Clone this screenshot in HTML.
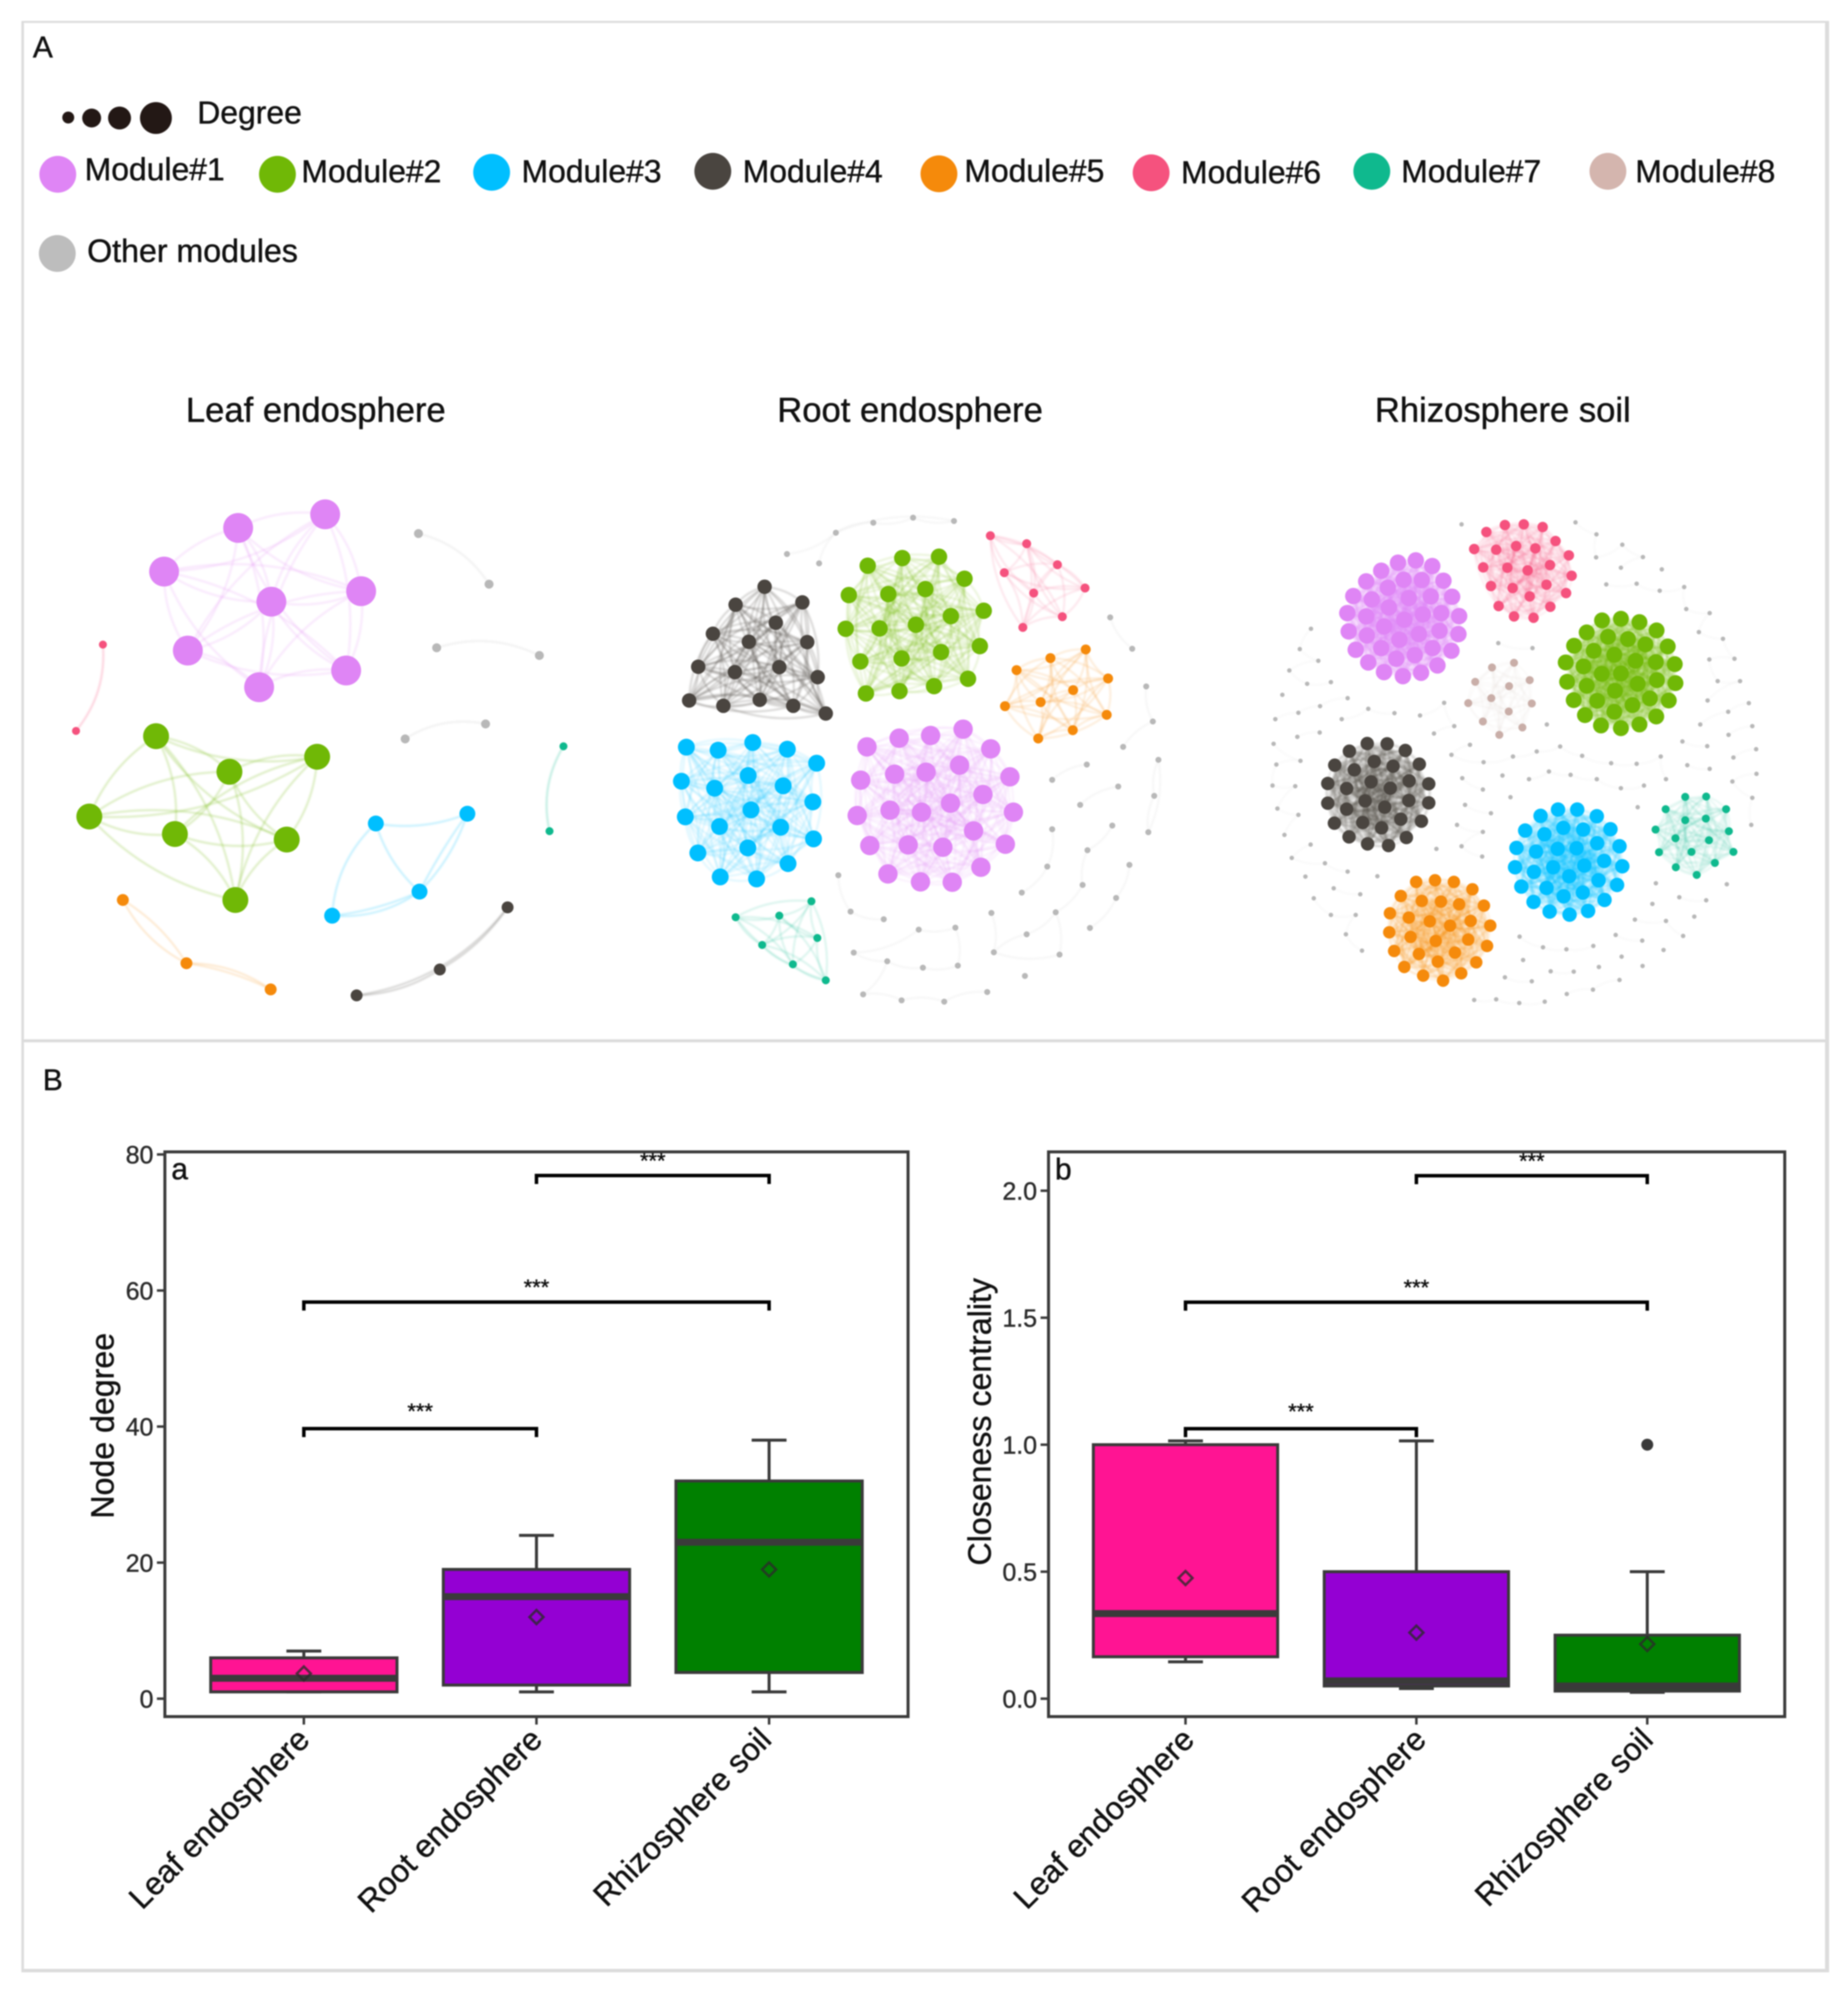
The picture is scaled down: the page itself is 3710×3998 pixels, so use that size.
<!DOCTYPE html>
<html lang="en">
<head>
<meta charset="utf-8">
<title>Co-occurrence networks and node-level topology</title>
<style>
html,body{margin:0;padding:0;background:#fff;}
svg{display:block;filter:blur(1.3px);font-family:"Liberation Sans",Arial,sans-serif;}
text{fill:#111;stroke:#111;stroke-width:.8px;}
.edges{filter:blur(1.8px);}
</style>
</head>
<body>
<svg id="figure" xmlns="http://www.w3.org/2000/svg" width="3710" height="3998" viewBox="0 0 3710 3998">
  <rect x="0" y="0" width="3710" height="3998" fill="#fff"/>
  <g stroke="#dcdcdc">
    <line x1="45.5" y1="42" x2="45.5" y2="3960" stroke-width="5"/>
    <line x1="43" y1="44" x2="3672" y2="44" stroke-width="4"/>
    <line x1="3668" y1="42" x2="3668" y2="3960" stroke-width="8"/>
    <line x1="43" y1="3957" x2="3672" y2="3957" stroke-width="7"/>
  </g>
  <line x1="45" y1="2090" x2="3664" y2="2090" stroke="#dcdcdc" stroke-width="6"/>

  <text x="66" y="115" font-size="60">A</text>
  <text x="86" y="2189" font-size="60">B</text>

  <g>
    <circle cx="137" cy="236" r="12" fill="#231815"/>
    <circle cx="184" cy="237" r="19" fill="#231815"/>
    <circle cx="240" cy="237" r="23" fill="#231815"/>
    <circle cx="313" cy="237" r="32" fill="#231815"/>
    <text x="396" y="248" font-size="64">Degree</text>
  </g>

  <g font-size="64">
    <circle cx="116" cy="350" r="37" fill="#df85f5"/>
    <text x="170" y="362">Module#1</text>
    <circle cx="557" cy="350" r="37" fill="#70b806"/>
    <text x="605" y="366">Module#2</text>
    <circle cx="987" cy="346" r="37" fill="#00bfff"/>
    <text x="1047" y="366">Module#3</text>
    <circle cx="1431" cy="344" r="37" fill="#4a4540"/>
    <text x="1491" y="366">Module#4</text>
    <circle cx="1885" cy="349" r="37" fill="#f58a0b"/>
    <text x="1936" y="365">Module#5</text>
    <circle cx="2311" cy="347" r="37" fill="#f5527e"/>
    <text x="2371" y="368">Module#6</text>
    <circle cx="2754" cy="344" r="37" fill="#0fb98e"/>
    <text x="2813" y="366">Module#7</text>
    <circle cx="3228" cy="344" r="37" fill="#d4b5ae"/>
    <text x="3283" y="366">Module#8</text>
    <circle cx="115" cy="509" r="37" fill="#bdbdbd"/>
    <text x="175" y="526" font-size="64.5">Other modules</text>
  </g>

  <text x="634" y="847" font-size="69.5" text-anchor="middle">Leaf endosphere</text>
  <text x="1827" y="847" font-size="69.5" text-anchor="middle">Root endosphere</text>
  <text x="3017" y="847" font-size="69.5" text-anchor="middle">Rhizosphere soil</text>

  <g id="networks"></g>
  <g id="chart-a"></g>
  <g id="chart-b"></g>
</svg>

<script>
/* ---------- boxplot data ---------- */
const categories = ['Leaf endosphere', 'Root endosphere', 'Rhizosphere soil'];
const boxColors = ['#ff1493', '#9400d3', '#008000'];

const degreeTicks = [0, 20, 40, 60, 80];
const degreeTickLabels = ['0', '20', '40', '60', '80'];
const degreeWhiskerLow = [1, 1, 1];
const degreeQ1 = [1, 2, 3.85];
const degreeMedian = [3, 15, 23];
const degreeQ3 = [6, 19, 32];
const degreeWhiskerHigh = [7, 24, 38];
const degreeMean = [3.7, 12, 19];
const degreeOutliers = [null, null, null];
const degreeBracketLevels = [39.7, 58.3, 76.9];

const closenessTicks = [0, 0.5, 1, 1.5, 2];
const closenessTickLabels = ['0.0', '0.5', '1.0', '1.5', '2.0'];
const closenessWhiskerLow = [0.145, 0.04, 0.025];
const closenessQ1 = [0.165, 0.05, 0.03];
const closenessMedian = [0.335, 0.07, 0.05];
const closenessQ3 = [1.0, 0.5, 0.25];
const closenessWhiskerHigh = [1.015, 1.015, 0.5];
const closenessMean = [0.475, 0.26, 0.215];
const closenessOutliers = [null, null, 1.0];
const closenessBracketLevels = [1.063, 1.561, 2.059];

const significancePairs = [[0, 1], [0, 2], [1, 2]];
const significanceLabels = ['***', '***', '***'];

/* ---------- network data (node locations) ---------- */
const leafModule1 = [[788,118],[539,157],[327,282],[634,368],[891,338],[395,508],[848,565],[599,613]];
const leafModule2 = [[304,753],[765,812],[514,855],[113,983],[358,1033],[678,1049],[531,1222]];
const leafModule3 = [[933,1003],[1195,975],[1058,1198],[808,1267]];
const leafModule3Edges = [[0,1,0.14],[0,2,0.14],[0,3,0.2],[1,2,0.04],[1,2,-0.12],[2,3,-0.08],[2,3,-0.18]];
const leafModule4 = [[1310,1243],[1116,1421],[878,1495]];
const leafModule4Edges = [[0,1,-0.12],[1,2,-0.14],[0,2,-0.2]];
const leafModule5 = [[209,1222],[391,1403],[632,1478]];
const leafModule5Edges = [[0,1,0.16],[0,1,-0.12],[1,2,-0.16],[1,2,-0.08]];
const leafModule6 = [[152,491],[75,738]];
const leafModule6Edges = [[0,1,-0.2]];
const leafModule7 = [[1470,782],[1430,1025]];
const leafModule7Edges = [[0,1,0.2]];
const leafOther = [[1055,173],[1257,318],[1107,500],[1401,522],[1017,761],[1247,718]];
const leafOtherEdges = [[0,1,-0.2],[2,3,-0.2],[4,5,-0.2]];

const rootModule1 = [[903,693],[720,720],[810,712],[628,746],[982,752],[893,801],[707,828],[797,822],[1037,836],[610,846],[960,889],[867,915],[694,936],[784,942],[600,952],[1047,942],[933,998],[746,1040],[636,1042],[845,1047],[1024,1038],[954,1107],[688,1127],[781,1151],[872,1152]];
const rootModule2 = [[630,203],[729,180],[834,176],[907,242],[576,291],[689,288],[795,273],[962,338],[567,392],[664,391],[768,380],[868,354],[951,444],[609,490],[727,481],[840,462],[917,542],[625,586],[721,579],[820,564]];
const rootModule3 = [[111,747],[202,756],[301,733],[400,753],[484,795],[97,849],[192,870],[288,832],[388,863],[473,911],[108,956],[296,935],[206,985],[381,987],[475,1022],[144,1064],[287,1049],[402,1096],[208,1136],[312,1142]];
const rootModule4 = [[335,266],[252,320],[443,313],[367,374],[187,407],[290,431],[457,432],[145,506],[250,522],[377,507],[487,537],[119,607],[217,623],[321,605],[417,623],[510,646]];
const rootModule5 = [[1254,454],[1153,480],[1056,516],[1318,541],[1218,576],[1125,612],[1023,624],[1314,650],[1217,696],[1118,721]];
const rootModule6 = [[981,113],[1085,137],[1173,200],[1021,224],[1252,270],[1105,285],[1187,356],[1074,388]];
const rootModule7 = [[469,1209],[252,1257],[377,1252],[486,1319],[328,1340],[416,1398],[510,1446]];
const rootOther = [[399,168],[539,104],[491,196],[646,74],[760,59],[877,69],[1324,358],[1387,452],[1427,565],[1446,670],[1361,746],[1462,785],[1450,893],[1433,1002],[1257,799],[1158,845],[1347,865],[1238,920],[1330,982],[1158,993],[1259,1056],[1144,1105],[1379,1100],[1245,1160],[1341,1199],[1071,1183],[984,1244],[1168,1242],[1266,1289],[1085,1308],[991,1362],[1179,1369],[1080,1433],[972,1481],[849,1510],[727,1506],[617,1488],[546,1131],[581,1240],[676,1263],[776,1294],[881,1288],[590,1363],[686,1389],[788,1408],[888,1402]];
const rootOtherEdges = [[0,1],[1,2],[1,3],[3,4],[4,5],[1,5],[6,7],[8,9],[9,10],[11,12],[12,13],[11,13],[14,15],[16,17],[18,20],[20,23],[19,21],[21,25],[22,24],[24,28],[23,27],[26,30],[27,29],[27,31],[30,31],[29,30],[33,34],[34,35],[35,36],[37,38],[38,39],[40,42],[40,41],[42,43],[43,44],[44,45],[36,43],[41,45]];

const rhizoModule1 = [[488,187],[437,194],[535,204],[389,218],[346,250],[567,248],[453,245],[505,246],[408,269],[309,294],[592,296],[362,304],[468,300],[531,295],[411,328],[292,345],[346,355],[455,365],[508,349],[561,345],[612,354],[397,385],[296,400],[556,398],[610,408],[348,412],[497,408],[441,425],[389,450],[536,450],[590,458],[316,455],[432,482],[485,471],[352,493],[550,502],[397,522],[503,524],[451,534]];
const rhizoModule2 = [[1021,367],[1075,362],[1128,372],[977,403],[1177,397],[1038,416],[1095,423],[1145,439],[1209,445],[941,443],[997,458],[1056,470],[1117,488],[917,493],[968,505],[1175,492],[1229,498],[1020,527],[1075,526],[921,551],[977,563],[1123,557],[1178,546],[1231,555],[1058,578],[940,606],[1007,608],[1158,601],[1212,607],[1108,621],[1056,641],[972,651],[1176,655],[1018,682],[1128,679],[1075,690]];
const rhizoModule3 = [[895,934],[950,934],[845,953],[1006,954],[910,989],[967,994],[801,997],[1045,993],[856,1008],[1007,1035],[1071,1044],[776,1049],[832,1060],[894,1052],[948,1050],[1027,1088],[772,1107],[881,1107],[970,1102],[1079,1104],[826,1121],[927,1134],[1011,1146],[790,1165],[862,1169],[1064,1160],[966,1183],[911,1194],[1028,1205],[825,1211],[871,1240],[981,1238],[928,1249]];
const rhizoModule4 = [[349,736],[406,737],[298,759],[458,757],[369,790],[256,801],[423,804],[498,798],[312,815],[360,851],[236,856],[469,848],[525,857],[290,871],[415,870],[236,915],[343,908],[468,907],[525,914],[290,933],[399,927],[255,975],[336,973],[445,963],[504,969],[390,989],[297,1016],[461,1018],[350,1037],[410,1042]];
const rhizoModule5 = [[489,1151],[543,1146],[597,1151],[650,1173],[445,1193],[505,1208],[560,1210],[612,1218],[683,1222],[414,1245],[468,1258],[528,1269],[645,1268],[586,1282],[701,1282],[412,1302],[473,1316],[545,1328],[638,1324],[692,1343],[426,1358],[497,1367],[600,1363],[551,1390],[661,1392],[455,1406],[509,1432],[618,1425],[566,1447]];
const rhizoModule6 = [[743,81],[797,79],[851,87],[690,102],[888,129],[655,153],[718,155],[775,144],[830,151],[926,172],[681,208],[750,209],[808,217],[872,201],[934,233],[703,264],[765,270],[862,260],[918,285],[814,295],[725,324],[873,326],[769,355],[825,359]];
const rhizoModule7 = [[1259,896],[1319,895],[1203,933],[1376,933],[1259,966],[1318,961],[1174,994],[1384,999],[1231,1020],[1327,1026],[1184,1062],[1277,1061],[1397,1061],[1344,1094],[1232,1107],[1292,1130]];
const rhizoModule8 = [[769,494],[706,508],[814,546],[658,551],[755,564],[704,600],[638,615],[820,616],[754,640],[680,670],[793,688],[727,710]];
const rhizoOther = [[619,79],[945,73],[1005,109],[1004,178],[1079,140],[1138,177],[1075,209],[1192,214],[1033,259],[1120,257],[1186,278],[1256,267],[1262,333],[1329,345],[1298,402],[1367,422],[1400,482],[1328,484],[1352,549],[1416,549],[1323,607],[1441,615],[1382,641],[1302,679],[1451,684],[1383,710],[1251,730],[1322,744],[1462,753],[1397,778],[1265,801],[1329,812],[1463,827],[1394,850],[1451,899],[1448,980],[724,435],[822,450],[188,392],[156,453],[209,488],[126,517],[177,557],[245,552],[106,590],[293,600],[214,624],[152,644],[86,663],[276,663],[352,632],[427,645],[213,703],[149,716],[500,652],[569,614],[598,684],[540,706],[863,679],[81,737],[158,788],[89,799],[78,862],[143,864],[92,931],[152,950],[112,1010],[643,740],[590,770],[682,792],[766,775],[834,760],[901,745],[964,773],[1047,795],[1120,797],[1189,775],[1204,843],[736,832],[621,840],[680,874],[812,843],[869,820],[931,830],[1006,843],[1075,870],[1141,862],[759,897],[629,920],[703,945],[1123,927],[606,980],[680,1001],[619,1044],[678,1075],[547,1052],[187,1039],[133,1079],[228,1095],[293,1120],[172,1135],[378,1134],[253,1170],[329,1188],[196,1200],[245,1250],[316,1250],[288,1308],[334,1357],[1175,1155],[1378,1158],[1242,1197],[1319,1206],[1165,1217],[1285,1255],[1115,1264],[1204,1268],[1253,1313],[1060,1310],[1136,1327],[785,1315],[852,1347],[919,1353],[996,1343],[1197,1355],[1077,1375],[795,1385],[1012,1406],[1137,1403],[874,1419],[940,1420],[743,1437],[820,1449],[1071,1445],[995,1474],[920,1487],[655,1505],[718,1503],[784,1514],[857,1510]];

/* ---------- helpers ---------- */
const NS = 'http://www.w3.org/2000/svg';
function mk(parent, tag, attrs, txt) {
  const el = document.createElementNS(NS, tag);
  for (const k in attrs) el.setAttribute(k, attrs[k]);
  if (txt !== undefined) el.textContent = txt;
  parent.appendChild(el);
  return el;
}
const slug = s => s.toLowerCase().replace(/[^a-z0-9]+/g, '-');

/* ---------- networks ---------- */
const netsRoot = document.getElementById('networks');
const MODULE_COLORS = {1:'#df85f5',2:'#70b806',3:'#00bfff',4:'#4a4540',5:'#f58a0b',6:'#f5527e',7:'#0fb98e',8:'#c9aea8',0:'#b8b8b8'};

function allPairs(n) {
  const out = [];
  for (let i = 0; i < n; i++) for (let j = i + 1; j < n; j++) out.push([i, j]);
  return out;
}
function chainPairs(nodes, limit) {
  const out = [];
  for (let i = 0; i + 1 < nodes.length; i++) {
    const d = Math.hypot(nodes[i][0] - nodes[i + 1][0], nodes[i][1] - nodes[i + 1][1]);
    if (d < limit) out.push([i, i + 1]);
  }
  return out;
}
function drawModule(group, net, label, nodes, moduleId, radius, edges, opacity, width) {
  const color = MODULE_COLORS[moduleId];
  const g = mk(group, 'g', {});
  
  
  const pts = nodes.map(p => [net.x(p[0]), net.y(p[1])]);
  const eg = mk(g, 'g', {class: 'edges'});
  
  
  edges.forEach(e => {
    const a = pts[e[0]], b = pts[e[1]];
    const mx = (a[0] + b[0]) / 2, my = (a[1] + b[1]) / 2;
    const dx = b[0] - a[0], dy = b[1] - a[1];
    const bend = e.length > 2 ? e[2] : 0.16 * ((e[0] + e[1]) % 2 ? 1 : -1);
    const path = mk(eg, 'path', {
      d: 'M' + a[0].toFixed(1) + ' ' + a[1].toFixed(1) + 'Q' + (mx - dy * bend).toFixed(1) + ' ' + (my + dx * bend).toFixed(1) + ' ' + b[0].toFixed(1) + ' ' + b[1].toFixed(1),
      fill: 'none', stroke: color, 'stroke-width': width, 'stroke-opacity': opacity
    });
    
    
  });
  pts.forEach(p => {
    const c = mk(g, 'circle', {cx: p[0].toFixed(1), cy: p[1].toFixed(1), r: radius, fill: color});
    
    
  });
}

const leafNet = {name: 'leaf-network', x: v => 100 + v / 1.4255, y: v => 950 + v / 1.4255};
const rootNet = {name: 'root-network', x: v => 1300 + v / 1.4255, y: v => 1000 + v / 1.493};
const rhizoNet = {name: 'rhizosphere-network', x: v => 2500 + v / 1.4255, y: v => 1000 + v / 1.493};

const leafG = mk(netsRoot, 'g', {});


drawModule(leafG, leafNet, 'module-1', leafModule1, 1, 30, allPairs(leafModule1.length), 0.26, 3);
drawModule(leafG, leafNet, 'module-2', leafModule2, 2, 26, allPairs(leafModule2.length), 0.32, 3);
drawModule(leafG, leafNet, 'module-3', leafModule3, 3, 16, leafModule3Edges, 0.3, 3);
drawModule(leafG, leafNet, 'module-4', leafModule4, 4, 12, leafModule4Edges, 0.34, 2.5);
drawModule(leafG, leafNet, 'module-5', leafModule5, 5, 12, leafModule5Edges, 0.3, 2.5);
drawModule(leafG, leafNet, 'module-6', leafModule6, 6, 8, leafModule6Edges, 0.35, 3);
drawModule(leafG, leafNet, 'module-7', leafModule7, 7, 8, leafModule7Edges, 0.35, 3);
drawModule(leafG, leafNet, 'other-modules', leafOther, 0, 9, leafOtherEdges, 0.25, 3);

const rootG = mk(netsRoot, 'g', {});


drawModule(rootG, rootNet, 'other-modules', rootOther, 0, 6, rootOtherEdges, 0.2, 2.4);
drawModule(rootG, rootNet, 'module-1', rootModule1, 1, 19.5, allPairs(rootModule1.length), 0.18, 2.4);
drawModule(rootG, rootNet, 'module-2', rootModule2, 2, 16.5, allPairs(rootModule2.length), 0.24, 2.4);
drawModule(rootG, rootNet, 'module-3', rootModule3, 3, 17, allPairs(rootModule3.length), 0.2, 2.4);
drawModule(rootG, rootNet, 'module-4', rootModule4, 4, 14.5, allPairs(rootModule4.length), 0.38, 2.2);
drawModule(rootG, rootNet, 'module-5', rootModule5, 5, 10, allPairs(rootModule5.length), 0.28, 2.2);
drawModule(rootG, rootNet, 'module-6', rootModule6, 6, 9, allPairs(rootModule6.length), 0.26, 2.2);
drawModule(rootG, rootNet, 'module-7', rootModule7, 7, 8, allPairs(rootModule7.length), 0.28, 2.2);

const rhizoG = mk(netsRoot, 'g', {});


drawModule(rhizoG, rhizoNet, 'other-modules', rhizoOther, 0, 4.5, chainPairs(rhizoOther, 110), 0.14, 2);
drawModule(rhizoG, rhizoNet, 'module-1', rhizoModule1, 1, 16.5, allPairs(rhizoModule1.length), 0.24, 2.2);
drawModule(rhizoG, rhizoNet, 'module-2', rhizoModule2, 2, 16, allPairs(rhizoModule2.length), 0.24, 2.2);
drawModule(rhizoG, rhizoNet, 'module-3', rhizoModule3, 3, 14.5, allPairs(rhizoModule3.length), 0.22, 2.2);
drawModule(rhizoG, rhizoNet, 'module-4', rhizoModule4, 4, 13.5, allPairs(rhizoModule4.length), 0.24, 2.2);
drawModule(rhizoG, rhizoNet, 'module-5', rhizoModule5, 5, 12.5, allPairs(rhizoModule5.length), 0.2, 2.2);
drawModule(rhizoG, rhizoNet, 'module-6', rhizoModule6, 6, 10.5, allPairs(rhizoModule6.length), 0.18, 2);
drawModule(rhizoG, rhizoNet, 'module-7', rhizoModule7, 7, 8, allPairs(rhizoModule7.length), 0.18, 2);
drawModule(rhizoG, rhizoNet, 'module-8', rhizoModule8, 8, 8, allPairs(rhizoModule8.length), 0.1, 2);

/* ---------- boxplots ---------- */
const INK = '#3a3a3a';
function drawBoxChart(root, c) {
  const yScale = v => c.zeroY - v * c.unit;
  const xScale = i => c.catX0 + i * c.catStep;

  // boxes
  categories.forEach((cat, i) => {
    const g = mk(root, 'g', {});
    
    
    const x = xScale(i), hw = c.boxWidth / 2, cw = 35;
    const wh = mk(g, 'line', {x1: x, x2: x, y1: yScale(c.high[i]), y2: yScale(c.q3[i]), stroke: INK, 'stroke-width': 6});
    
    
    const wl = mk(g, 'line', {x1: x, x2: x, y1: yScale(c.low[i]), y2: yScale(c.q1[i]), stroke: INK, 'stroke-width': 6});
    
    
    const ch = mk(g, 'line', {x1: x - cw, x2: x + cw, y1: yScale(c.high[i]), y2: yScale(c.high[i]), stroke: INK, 'stroke-width': 6});
    
    
    const cl = mk(g, 'line', {x1: x - cw, x2: x + cw, y1: yScale(c.low[i]), y2: yScale(c.low[i]), stroke: INK, 'stroke-width': 6});
    
    
    const r = mk(g, 'rect', {x: x - hw, y: yScale(c.q3[i]), width: c.boxWidth, height: yScale(c.q1[i]) - yScale(c.q3[i]), fill: boxColors[i], stroke: INK, 'stroke-width': 6});
    
    
    const m = mk(g, 'line', {x1: x - hw, x2: x + hw, y1: yScale(c.median[i]), y2: yScale(c.median[i]), stroke: INK, 'stroke-width': 14});
    
    
    const my = yScale(c.mean[i]), d = 14;
    const dm = mk(g, 'polygon', {points: [x, my - d, x + d, my, x, my + d, x - d, my].join(' '), fill: 'none', stroke: '#2a2a2a', 'stroke-opacity': 0.8, 'stroke-width': 5});
    
    
    if (c.outliers[i] !== null) {
      const o = mk(g, 'circle', {cx: x, cy: yScale(c.outliers[i]), r: 12, fill: INK});
      
      
    }
  });

  // frame
  const frame = mk(root, 'rect', {x: c.left, y: c.top, width: c.right - c.left, height: c.bottom - c.top, fill: 'none', stroke: INK, 'stroke-width': 6});
  
  

  // y ticks
  c.ticks.forEach((t, i) => {
    const y = yScale(t);
    const tk = mk(root, 'line', {x1: c.left - 16, x2: c.left, y1: y, y2: y, stroke: INK, 'stroke-width': 5});
    
    
    const lb = mk(root, 'text', {x: c.left - 23, y: y + 18, 'font-size': 50, 'text-anchor': 'end', style: 'fill:#2b2b2b;stroke:#2b2b2b'}, c.tickLabels[i]);
    
    
  });

  // x ticks
  categories.forEach((cat, i) => {
    const x = xScale(i);
    const tk = mk(root, 'line', {x1: x, x2: x, y1: c.bottom, y2: c.bottom + 16, stroke: INK, 'stroke-width': 5});
    
    
    const lx = x + c.labelShift[i], ly = c.bottom + 50;
    const lb = mk(root, 'text', {x: lx, y: ly, 'font-size': 64, 'text-anchor': 'end', transform: 'rotate(-45 ' + lx + ' ' + ly + ')'}, cat);
    
    
  });

  // significance brackets
  significancePairs.forEach((pair, i) => {
    const x1 = xScale(pair[0]), x2 = xScale(pair[1]), y = yScale(c.brackets[i]);
    const br = mk(root, 'path', {d: 'M' + x1 + ' ' + (y + 17) + 'V' + y + 'H' + x2 + 'V' + (y + 17), fill: 'none', stroke: '#000', 'stroke-width': 7});
    
    
    const st = mk(root, 'text', {x: (x1 + x2) / 2, y: y - (i === 0 ? 20 : 15), 'font-size': 44, 'text-anchor': 'middle'}, significanceLabels[i]);
    
    
  });

  // titles
  const yt = mk(root, 'text', {x: c.titleX, y: c.titleY, 'font-size': 64.5, 'text-anchor': 'middle', transform: 'rotate(-90 ' + c.titleX + ' ' + c.titleY + ')'}, c.title);
  
  
  const pl = mk(root, 'text', {x: c.left + 13, y: c.top + 55, 'font-size': 60}, c.panel);
  
  
}

drawBoxChart(document.getElementById('chart-a'), {
  left: 331, right: 1823, top: 2313, bottom: 3447,
  zeroY: 3411, unit: 13.66,
  catX0: 610, catStep: 467, boxWidth: 374,
  labelShift: [15, 15, 8],
  ticks: degreeTicks, tickLabels: degreeTickLabels,
  low: degreeWhiskerLow, q1: degreeQ1, median: degreeMedian, q3: degreeQ3, high: degreeWhiskerHigh, mean: degreeMean,
  outliers: degreeOutliers, brackets: degreeBracketLevels,
  title: 'Node degree', titleX: 228, titleY: 2863, panel: 'a'
});
drawBoxChart(document.getElementById('chart-b'), {
  left: 2105, right: 3583, top: 2313, bottom: 3447,
  zeroY: 3411, unit: 510,
  catX0: 2380, catStep: 463.5, boxWidth: 370,
  labelShift: [21, 23, 15],
  ticks: closenessTicks, tickLabels: closenessTickLabels,
  low: closenessWhiskerLow, q1: closenessQ1, median: closenessMedian, q3: closenessQ3, high: closenessWhiskerHigh, mean: closenessMean,
  outliers: closenessOutliers, brackets: closenessBracketLevels,
  title: 'Closeness centrality', titleX: 1989, titleY: 2855, panel: 'b'
});
</script>
</body>
</html>
